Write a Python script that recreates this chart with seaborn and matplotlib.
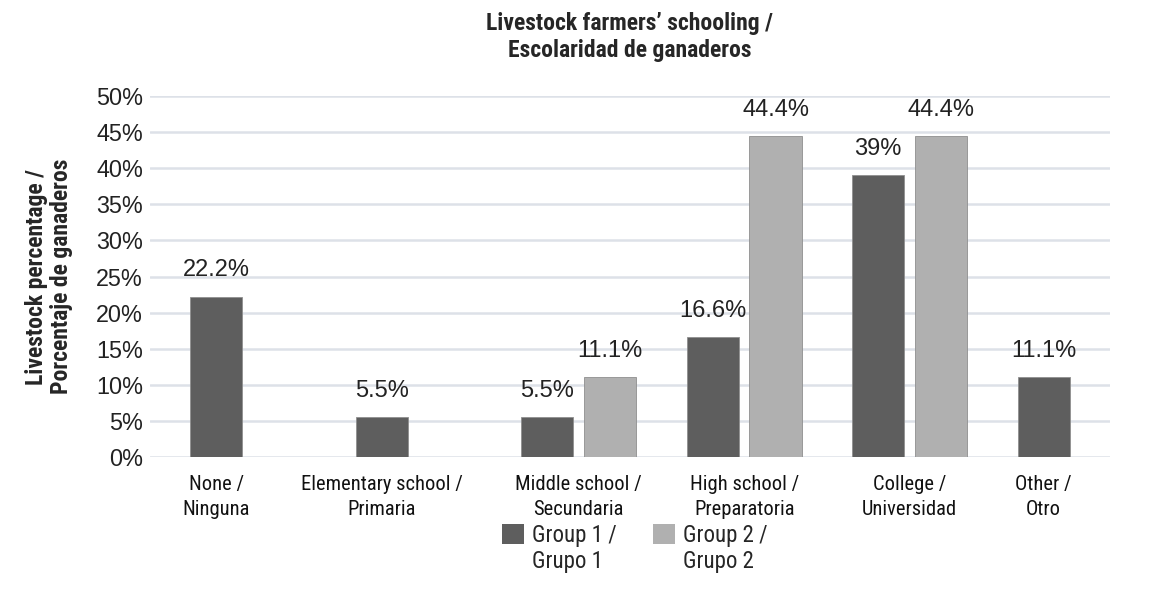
import matplotlib
matplotlib.use("Agg")
import matplotlib.pyplot as plt
import seaborn as sns
import pandas as pd
import numpy as np

categories = ["None /\nNinguna", "Elementary school /\nPrimaria", "Middle school /\nSecundaria",
              "High school /\nPreparatoria", "College /\nUniversidad", "Other /\nOtro"]
groups = ["Group 1 /\nGrupo 1", "Group 2 /\nGrupo 2"]
group1 = [22.2, 5.5, 5.5, 16.6, 39.0, 11.1]
group2 = [np.nan, np.nan, 11.1, 44.4, 44.4, np.nan]
value_labels1 = ["22.2%", "5.5%", "5.5%", "16.6%", "39%", "11.1%"]
value_labels2 = ["", "", "11.1%", "44.4%", "44.4%", ""]
yticks = [0, 5, 10, 15, 20, 25, 30, 35, 40, 45, 50]
title = "Livestock farmers’ schooling /\nEscolaridad de ganaderos"
ylabel = "Livestock percentage /\nPorcentaje de ganaderos"

df = pd.DataFrame({
    "category": categories * 2,
    "group": [groups[0]] * len(categories) + [groups[1]] * len(categories),
    "value": group1 + group2,
})

sns.set_theme(style="white")
narrow = "Roboto Condensed"
regular = "Liberation Sans"
plt.rcParams["font.family"] = [regular, "DejaVu Sans"]

fig = plt.figure(figsize=(11.49, 6.03), dpi=100)
ax = fig.add_axes([0.1305, 0.2421, 0.8355, 0.5987])

palette = {groups[0]: "#5e5e5e", groups[1]: "#b0b0b0"}
sns.barplot(data=df, x="category", y="value", hue="group", order=categories,
            hue_order=groups, palette=palette, width=0.76, gap=0.17,
            saturation=1, ax=ax, edgecolor="#8f8f8f", linewidth=0.6, zorder=3)

ax.set_ylim(0, 50)
ax.set_xlim(-0.59, 5.21)
ax.set_yticks(yticks)
ax.set_yticklabels([f"{t}%" for t in yticks], fontsize=16.8, color="#222222", family=regular)
ax.yaxis.grid(True, color="#dde1e8", linewidth=1.8, zorder=0)
ax.set_axisbelow(True)
for s in ax.spines.values():
    s.set_visible(False)
ax.tick_params(axis="both", length=0)
ax.tick_params(axis="y", pad=5)

label_sets = [value_labels1, value_labels2]
bar_x = {i: [] for i in range(len(categories))}
for gi, cont in enumerate(ax.containers):
    for b in cont:
        h = b.get_height()
        if not np.isfinite(h) or h <= 0:
            continue
        xc = b.get_x() + b.get_width() / 2
        ci = int(round(xc))
        bar_x[ci].append(xc)
        lab = label_sets[gi][ci]
        if lab:
            ax.annotate(lab, (xc, h), xytext=(0, 11), textcoords="offset points",
                        ha="center", va="bottom", fontsize=17, color="#222222",
                        family=regular)
centers = [np.mean(bar_x[i]) for i in range(len(categories))]
ax.set_xticks(centers)
ax.set_xticklabels(categories, fontsize=14.8, family=narrow, color="#111111", linespacing=1.4)
ax.tick_params(axis="x", pad=13)
ax.set_xlabel("")
ax.set_ylabel(ylabel, fontsize=17, fontweight="bold", family=narrow, linespacing=1.1)
ax.yaxis.set_label_coords(-0.08, 0.5)
ax.set_title(title, fontsize=17, fontweight="bold", family=narrow, pad=28, linespacing=1.25)

leg = ax.legend(loc="upper center", bbox_to_anchor=(0.505, -0.128), ncol=2, frameon=False,
                prop={"family": narrow, "size": 16.5}, handlelength=0.96, handleheight=0.96,
                columnspacing=1.6, handletextpad=0.35)
for h in leg.legend_handles:
    h.set_edgecolor("none")
for t in leg.get_texts():
    t.set_linespacing(1.15)
for col in leg._legend_handle_box.get_children():
    for row in col.get_children():
        row.align = "top"

fig.savefig("out.png", dpi=100)
